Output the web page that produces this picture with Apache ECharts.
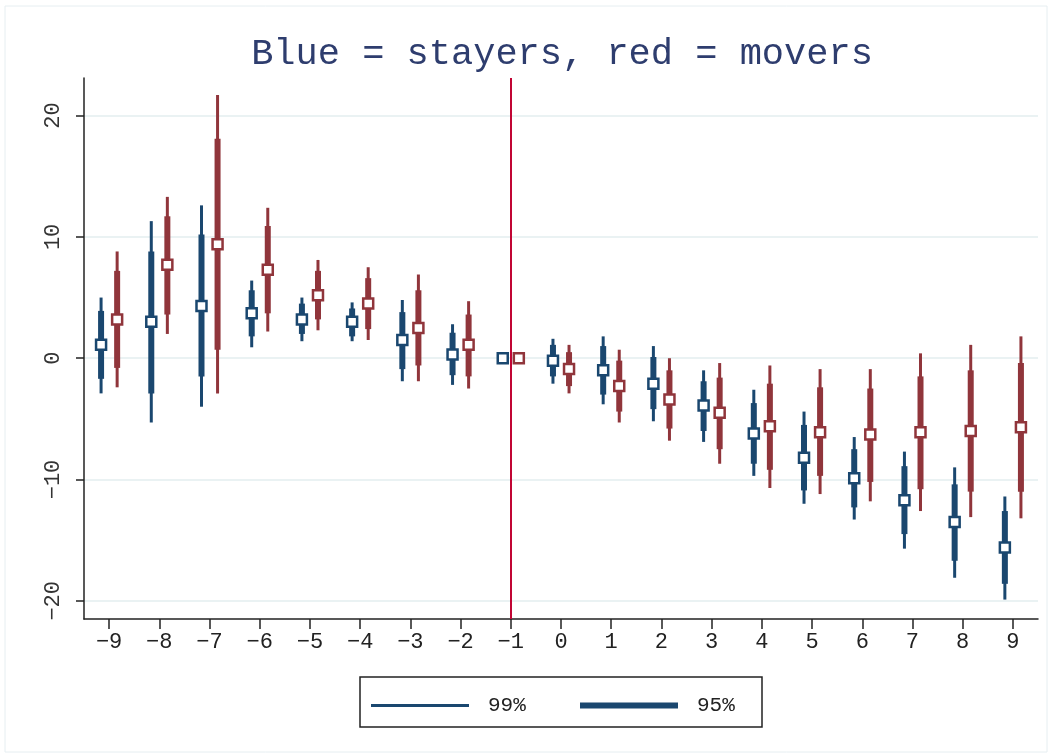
<!DOCTYPE html>
<html>
<head>
<meta charset="utf-8">
<script src="https://cdn.jsdelivr.net/npm/echarts@6/dist/echarts.min.js"></script>
<style>
  html, body { margin: 0; padding: 0; background: #fff; }
  #chart { width: 1050px; height: 756px; }
</style>
</head>
<body>
<div id="chart"></div>
<script>
// event time
const years = [-9, -8, -7, -6, -5, -4, -3, -2, -1, 0, 1, 2, 3, 4, 5, 6, 7, 8, 9]
const xTickLabels = ['−9', '−8', '−7', '−6', '−5', '−4', '−3', '−2', '−1', '0', '1', '2', '3', '4', '5', '6', '7', '8', '9']
const yTicks = [-20, -10, 0, 10, 20]
const yTickLabels = ['−20', '−10', '0', '10', '20']

// stayers (blue)
const stayEst  = [1.1, 3.0, 4.3, 3.7, 3.2, 3.0, 1.5, 0.3, 0, -0.2, -1.0, -2.1, -3.9, -6.2, -8.2, -9.9, -11.7, -13.5, -15.6]
const stayLo99 = [-2.9, -5.3, -4.0, 0.9, 1.4, 1.4, -1.9, -2.2, null, -2.1, -3.8, -5.2, -6.9, -9.7, -12.0, -13.3, -15.7, -18.1, -19.9]
const stayHi99 = [5.0, 11.3, 12.6, 6.4, 5.0, 4.6, 4.8, 2.8, null, 1.6, 1.8, 1.0, -1.0, -2.6, -4.4, -6.5, -7.7, -9.0, -11.4]
const stayLo95 = [-1.7, -2.9, -1.5, 1.8, 2.0, 1.8, -0.9, -1.4, null, -1.5, -3.0, -4.2, -6.0, -8.7, -10.9, -12.3, -14.5, -16.7, -18.6]
const stayHi95 = [3.9, 8.8, 10.2, 5.6, 4.5, 4.1, 3.8, 2.1, null, 1.1, 1.0, 0.1, -1.9, -3.7, -5.5, -7.5, -8.9, -10.4, -12.6]

// movers (red)
const moveEst  = [3.2, 7.7, 9.4, 7.3, 5.2, 4.5, 2.5, 1.1, 0, -0.9, -2.3, -3.4, -4.5, -5.6, -6.1, -6.3, -6.1, -6.0, -5.7]
const moveLo99 = [-2.4, 2.0, -2.9, 2.2, 2.3, 1.5, -1.9, -2.5, null, -2.9, -5.3, -6.8, -8.7, -10.7, -11.2, -11.8, -12.6, -13.1, -13.2]
const moveHi99 = [8.8, 13.3, 21.7, 12.4, 8.1, 7.5, 6.9, 4.7, null, 1.1, 0.7, 0.0, -0.4, -0.6, -0.9, -0.9, 0.4, 1.1, 1.8]
const moveLo95 = [-0.8, 3.6, 0.7, 3.7, 3.2, 2.4, -0.6, -1.5, null, -2.3, -4.4, -5.8, -7.5, -9.2, -9.7, -10.2, -10.8, -11.0, -11.0]
const moveHi95 = [7.2, 11.7, 18.1, 10.9, 7.2, 6.6, 5.6, 3.6, null, 0.5, -0.2, -1.0, -1.6, -2.1, -2.4, -2.5, -1.5, -1.0, -0.4]

const BLUE = '#1a476f'
const RED = '#90353b'
const FONT = 'Liberation Mono'
const SHIFT = 0.16

// [x, lo, hi] for the interval lines, skipping the reference year
const ciData = (lo, hi, dx) => {
  const out = []
  years.forEach((y, i) => {
    if (lo[i] !== null && hi[i] !== null) out.push([y + dx, lo[i], hi[i]])
  })
  return out
}

const ptData = (est, dx) => years.map((y, i) => [y + dx, est[i]])

const ciRender = (width) => (params, api) => {
  const p1 = api.coord([api.value(0), api.value(1)])
  const p2 = api.coord([api.value(0), api.value(2)])
  return {
    type: 'line',
    shape: { x1: p1[0], y1: p1[1], x2: p2[0], y2: p2[1] },
    style: { stroke: api.visual('color'), lineWidth: width }
  }
}

const ciSeries = (name, color, lo, hi, dx, width) => ({
  name: name,
  type: 'custom',
  renderItem: ciRender(width),
  itemStyle: { color: color },
  data: ciData(lo, hi, dx),
  encode: { x: 0, y: [1, 2] },
  z: 2
})

const ptSeries = (name, color, est, dx) => ({
  name: name,
  type: 'scatter',
  data: ptData(est, dx),
  symbol: 'rect',
  symbolSize: 10,
  itemStyle: { color: '#fff', borderColor: color, borderWidth: 2.5, opacity: 1 },
  z: 5
})

const chart = echarts.init(document.getElementById('chart'))

const option = {
  backgroundColor: '#fff',
  animation: false,
  title: {
    text: 'Blue = stayers, red = movers',
    left: 557,
    textAlign: 'center',
    top: 31,
    textStyle: { fontFamily: FONT, fontSize: 37, fontWeight: 'normal', color: '#2e3d6e' }
  },
  grid: { left: 84, right: 12, top: 78, bottom: 137 },
  legend: [
    {
      data: [{ name: '99%', icon: 'rect' }],
      left: 366, top: 690,
      itemWidth: 98, itemHeight: 3,
      textStyle: { fontFamily: FONT, fontSize: 21, color: '#222', padding: [0, 0, 0, 14] },
      selectedMode: false
    },
    {
      data: [{ name: '95%', icon: 'rect' }],
      left: 575, top: 690,
      itemWidth: 98, itemHeight: 6,
      textStyle: { fontFamily: FONT, fontSize: 21, color: '#222', padding: [0, 0, 0, 14] },
      selectedMode: false
    }
  ],
  graphic: [
    {
      type: 'rect',
      shape: { x: 360, y: 677, width: 402, height: 50 },
      style: { fill: 'none', stroke: '#222', lineWidth: 1.5 },
      silent: true
    },
    {
      type: 'rect',
      shape: { x: 5, y: 6, width: 1042, height: 746 },
      style: { fill: 'none', stroke: '#e6eef1', lineWidth: 1 },
      silent: true
    }
  ],
  xAxis: {
    type: 'value',
    min: -9.5,
    max: 9.5,
    axisLine: { show: true, onZero: false, lineStyle: { color: '#222', width: 1.5 } },
    axisTick: { show: true, length: 10, customValues: years, lineStyle: { color: '#222', width: 1.5 } },
    axisLabel: {
      customValues: years,
      formatter: (v) => xTickLabels[years.indexOf(Math.round(v))],
      fontFamily: FONT, fontSize: 22, color: '#222', margin: 12
    },
    splitLine: { show: false }
  },
  yAxis: {
    type: 'value',
    min: -21.5,
    max: 23.1,
    axisLine: { show: true, onZero: false, lineStyle: { color: '#222', width: 1.5 } },
    axisTick: { show: true, length: 8, customValues: yTicks, lineStyle: { color: '#222', width: 1.5 } },
    axisLabel: {
      customValues: yTicks,
      formatter: (v) => yTickLabels[yTicks.indexOf(Math.round(v))],
      rotate: 90,
      fontFamily: FONT, fontSize: 22, color: '#333', margin: 20
    },
    splitLine: { show: true, lineStyle: { color: '#eaf2f3', width: 2 } }
  },
  series: [
    ciSeries('99%', BLUE, stayLo99, stayHi99, -SHIFT, 3),
    ciSeries('95%', BLUE, stayLo95, stayHi95, -SHIFT, 6),
    ciSeries('99%', RED, moveLo99, moveHi99, SHIFT, 3),
    ciSeries('95%', RED, moveLo95, moveHi95, SHIFT, 6),
    ptSeries('stayers', BLUE, stayEst, -SHIFT),
    Object.assign(ptSeries('movers', RED, moveEst, SHIFT), {
      markLine: {
        silent: true,
        symbol: 'none',
        label: { show: false },
        lineStyle: { color: '#c10534', width: 2, type: 'solid' },
        data: [{ xAxis: -1 }]
      }
    })
  ]
}

chart.setOption(option)
</script>
</body>
</html>
